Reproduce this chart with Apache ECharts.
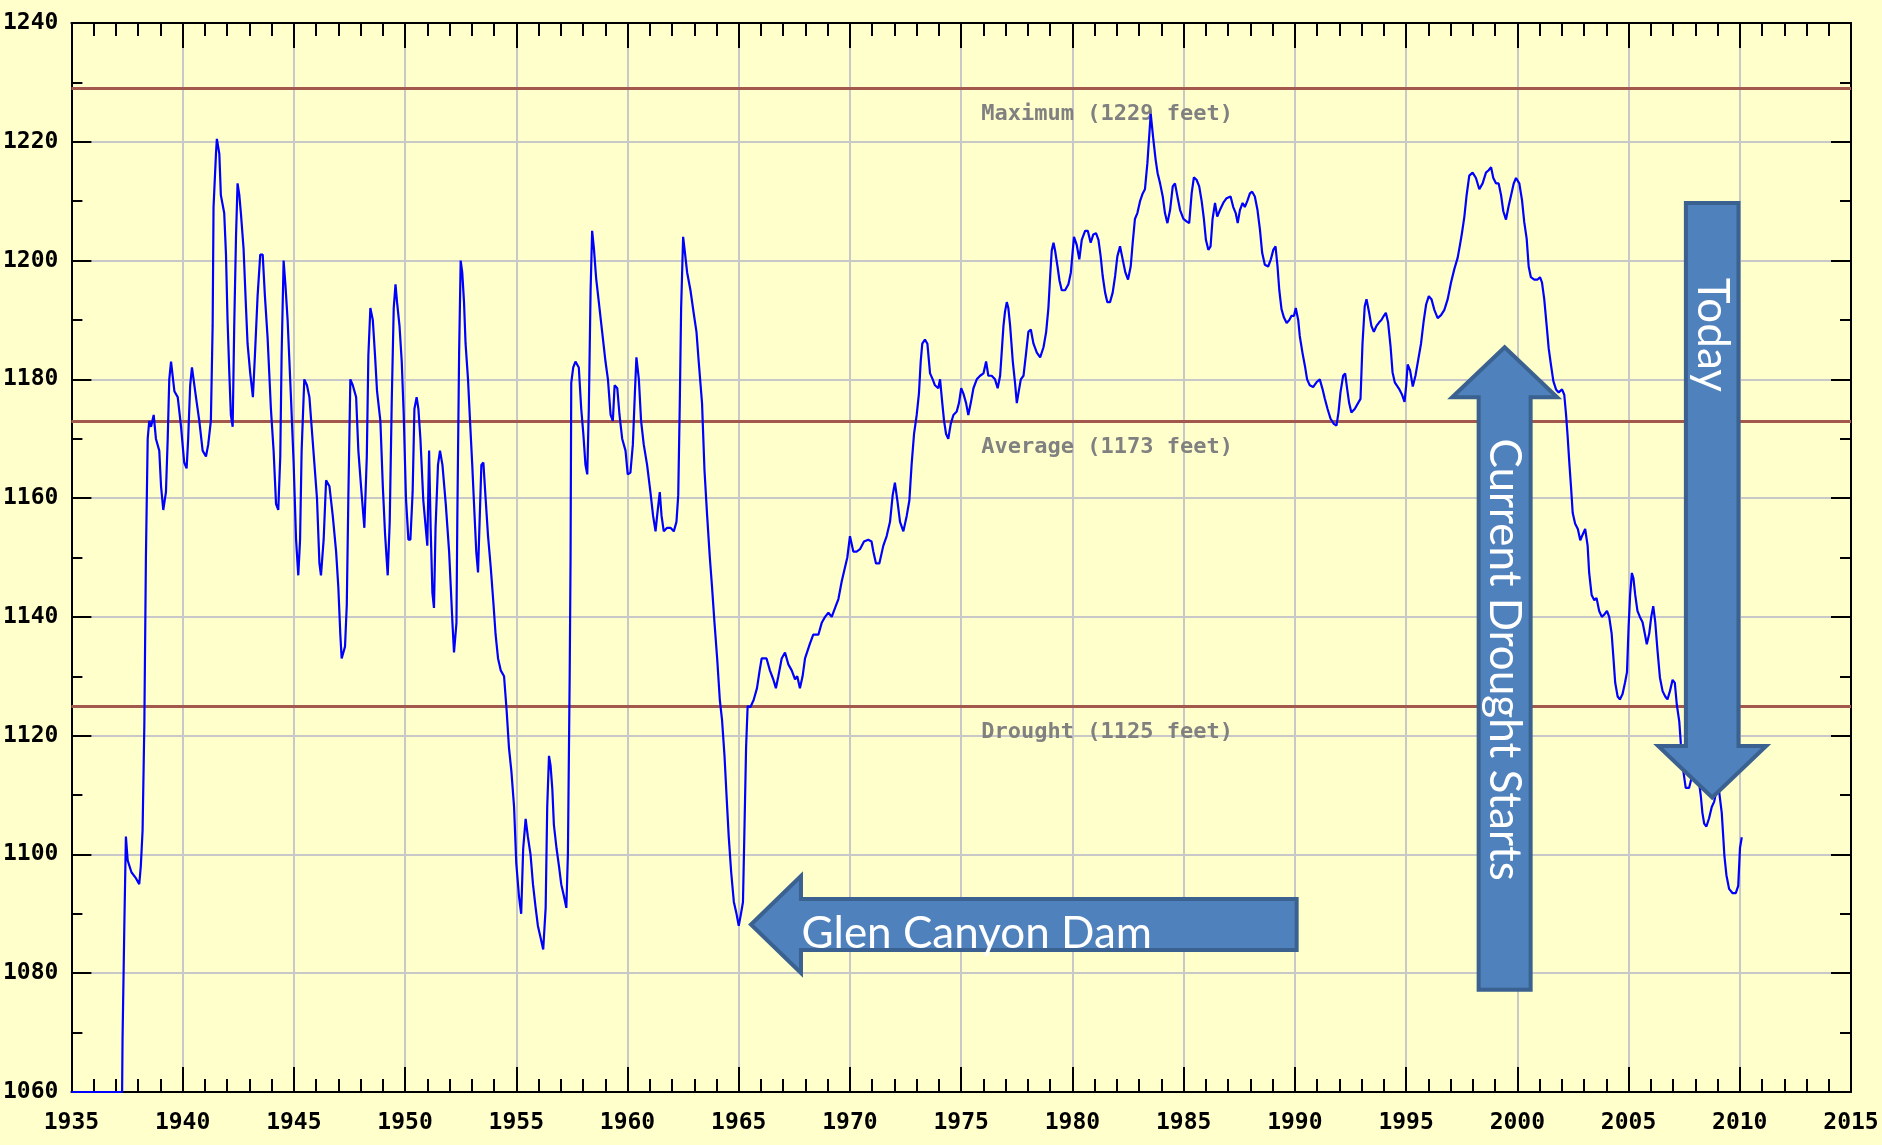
<!DOCTYPE html>
<html>
<head>
<meta charset="utf-8">
<title>Lake Mead elevation</title>
<script src="https://cdn.jsdelivr.net/npm/echarts@6/dist/echarts.min.js"></script>
<style>
  html, body { margin: 0; padding: 0; background: #ffffcc; }
  #chart { width: 1882px; height: 1145px; }
</style>
</head>
<body>
<div id="chart"></div>
<script>
// lake surface elevation, [year, feet]
const elev1930s = [
  [1935.0, 1060], [1937.28, 1060], [1937.3, 1069], [1937.38, 1088], [1937.45, 1103], [1937.53, 1099],
  [1937.7, 1097], [1937.9, 1096], [1938.05, 1095], [1938.12, 1098], [1938.2, 1104], [1938.28, 1122],
  [1938.35, 1150], [1938.43, 1170], [1938.5, 1173], [1938.58, 1172], [1938.7, 1174], [1938.8, 1170],
  [1938.95, 1168], [1939.03, 1162], [1939.13, 1158], [1939.25, 1161], [1939.33, 1170], [1939.4, 1180],
  [1939.48, 1183], [1939.63, 1178], [1939.78, 1177], [1939.93, 1172],
];
const elev1940s = [
  [1940.07, 1166], [1940.18, 1165], [1940.25, 1170], [1940.34, 1179], [1940.42, 1182], [1940.6, 1177],
  [1940.75, 1173], [1940.9, 1168], [1941.05, 1167], [1941.15, 1169], [1941.27, 1173], [1941.35, 1189],
  [1941.39, 1209], [1941.5, 1218], [1941.54, 1220.5], [1941.65, 1218], [1941.72, 1211], [1941.87, 1208],
  [1941.95, 1201], [1942.02, 1190], [1942.1, 1181], [1942.17, 1174], [1942.25, 1172], [1942.32, 1189],
  [1942.4, 1204], [1942.47, 1213], [1942.55, 1211], [1942.62, 1208], [1942.74, 1202], [1942.85, 1192],
  [1942.92, 1186], [1943.04, 1181], [1943.16, 1177], [1943.25, 1184], [1943.37, 1194], [1943.49, 1201],
  [1943.6, 1201], [1943.7, 1194], [1943.82, 1187], [1943.97, 1175], [1944.09, 1168], [1944.2, 1159],
  [1944.3, 1158], [1944.39, 1167], [1944.45, 1184], [1944.54, 1200], [1944.62, 1196], [1944.72, 1190],
  [1944.87, 1177], [1944.99, 1166], [1945.1, 1153], [1945.2, 1147], [1945.28, 1153], [1945.35, 1168],
  [1945.47, 1180], [1945.59, 1179], [1945.7, 1177], [1945.8, 1172], [1945.92, 1166], [1946.04, 1160],
  [1946.15, 1149], [1946.22, 1147], [1946.34, 1153], [1946.45, 1163], [1946.6, 1162], [1946.75, 1157],
  [1946.9, 1151], [1947.0, 1145], [1947.09, 1137], [1947.15, 1133], [1947.3, 1135], [1947.38, 1142],
  [1947.45, 1160], [1947.54, 1180], [1947.65, 1179], [1947.8, 1177], [1947.9, 1168], [1948.02, 1162],
  [1948.17, 1155], [1948.28, 1167], [1948.35, 1184], [1948.44, 1192], [1948.55, 1190], [1948.65, 1184],
  [1948.74, 1178], [1948.89, 1173], [1949.0, 1162], [1949.1, 1154], [1949.22, 1147], [1949.31, 1156],
  [1949.4, 1176], [1949.49, 1192], [1949.57, 1196], [1949.64, 1193], [1949.75, 1189], [1949.85, 1183],
  [1949.94, 1174],
];
const elev1950s = [
  [1950.04, 1160], [1950.15, 1153], [1950.24, 1153], [1950.34, 1161], [1950.42, 1175], [1950.52, 1177],
  [1950.6, 1175], [1950.69, 1170], [1950.82, 1159.6], [1950.93, 1155], [1951.0, 1152], [1951.08, 1168],
  [1951.15, 1155], [1951.23, 1144], [1951.3, 1141.5], [1951.37, 1155], [1951.48, 1165.6], [1951.57, 1168],
  [1951.68, 1165.6], [1951.83, 1159], [1951.98, 1151], [1952.13, 1139], [1952.2, 1134], [1952.31, 1139],
  [1952.35, 1157], [1952.43, 1184.5], [1952.5, 1200], [1952.57, 1198], [1952.65, 1193], [1952.72, 1186],
  [1952.83, 1180], [1952.92, 1173], [1953.02, 1165.6], [1953.1, 1159], [1953.2, 1151], [1953.28, 1147.5],
  [1953.35, 1156], [1953.43, 1165.6], [1953.52, 1166], [1953.62, 1160], [1953.73, 1153.6], [1953.85, 1148.4],
  [1953.97, 1142.4], [1954.07, 1137], [1954.18, 1133], [1954.3, 1131], [1954.45, 1130], [1954.57, 1124],
  [1954.67, 1118], [1954.78, 1114], [1954.9, 1108], [1955.0, 1098.5], [1955.12, 1093], [1955.22, 1090],
  [1955.31, 1101], [1955.42, 1106], [1955.52, 1103], [1955.64, 1100], [1955.75, 1095], [1955.87, 1091],
  [1955.97, 1088], [1956.09, 1086], [1956.21, 1084], [1956.32, 1091], [1956.39, 1108], [1956.47, 1116.6],
  [1956.54, 1115], [1956.62, 1111], [1956.69, 1105], [1956.81, 1101], [1956.92, 1098], [1957.02, 1095],
  [1957.14, 1093], [1957.25, 1091], [1957.32, 1100], [1957.4, 1130], [1957.44, 1150], [1957.47, 1179.4],
  [1957.56, 1182], [1957.66, 1183], [1957.81, 1182], [1957.92, 1175], [1958.01, 1171], [1958.11, 1165.6],
  [1958.19, 1164], [1958.26, 1175], [1958.34, 1195], [1958.41, 1205], [1958.49, 1202], [1958.59, 1197],
  [1958.71, 1193], [1958.86, 1188], [1959.01, 1183], [1959.12, 1180], [1959.24, 1174], [1959.34, 1173],
  [1959.42, 1179], [1959.54, 1178.5], [1959.64, 1174], [1959.76, 1170], [1959.91, 1168],
];
const elev1960s = [
  [1960.01, 1164], [1960.13, 1164.3], [1960.24, 1169], [1960.33, 1177.6], [1960.4, 1183.7], [1960.51, 1180],
  [1960.61, 1173], [1960.73, 1169], [1960.88, 1165.6], [1961.03, 1161], [1961.15, 1157], [1961.26, 1154.4],
  [1961.33, 1157], [1961.45, 1161], [1961.53, 1157], [1961.63, 1154.4], [1961.78, 1155], [1961.93, 1155],
  [1962.08, 1154.4], [1962.2, 1156], [1962.28, 1160.5], [1962.35, 1176], [1962.41, 1192], [1962.5, 1204],
  [1962.57, 1201.7], [1962.68, 1198], [1962.83, 1195], [1962.98, 1191], [1963.1, 1188], [1963.2, 1183],
  [1963.35, 1176], [1963.46, 1164.7], [1963.58, 1157], [1963.7, 1150], [1963.8, 1145], [1963.91, 1139],
  [1964.03, 1133], [1964.15, 1126], [1964.25, 1122.6], [1964.36, 1116.6], [1964.45, 1110], [1964.55, 1103],
  [1964.66, 1097], [1964.78, 1092], [1964.9, 1090], [1965.0, 1088], [1965.1, 1090], [1965.19, 1092],
  [1965.25, 1103], [1965.33, 1118], [1965.4, 1125], [1965.52, 1124.8], [1965.67, 1126], [1965.82, 1128],
  [1965.94, 1131], [1966.03, 1133], [1966.25, 1133], [1966.4, 1131], [1966.55, 1129.5], [1966.67, 1128],
  [1966.78, 1130], [1966.93, 1133], [1967.08, 1134], [1967.23, 1132], [1967.38, 1131], [1967.53, 1129.5],
  [1967.63, 1130], [1967.75, 1128], [1967.87, 1130], [1967.98, 1133], [1968.2, 1135.5], [1968.35, 1137],
  [1968.58, 1137], [1968.73, 1139], [1968.88, 1140], [1969.03, 1140.7], [1969.18, 1140], [1969.33, 1141.5],
  [1969.48, 1143], [1969.63, 1146], [1969.78, 1148.4], [1969.88, 1150],
];
const elev1970s = [
  [1970.0, 1153.6], [1970.15, 1151], [1970.3, 1151], [1970.45, 1151.4], [1970.63, 1152.7], [1970.82, 1153],
  [1970.97, 1152.7], [1971.05, 1151], [1971.17, 1149], [1971.32, 1149], [1971.5, 1152], [1971.65, 1153.6],
  [1971.8, 1156], [1971.92, 1160.5], [1972.02, 1162.6], [1972.13, 1159.6], [1972.25, 1156], [1972.4, 1154.4],
  [1972.55, 1157], [1972.67, 1159.6], [1972.77, 1165.6], [1972.88, 1170.8], [1973.0, 1174], [1973.1, 1177.6],
  [1973.18, 1183], [1973.25, 1186], [1973.37, 1186.7], [1973.48, 1186], [1973.6, 1181], [1973.72, 1180],
  [1973.82, 1179], [1973.97, 1178.5], [1974.05, 1180], [1974.15, 1176], [1974.23, 1173], [1974.32, 1170.8],
  [1974.42, 1170], [1974.53, 1172.5], [1974.65, 1174], [1974.8, 1174.6], [1974.9, 1176], [1975.0, 1178.5],
  [1975.1, 1177.6], [1975.22, 1176], [1975.32, 1174], [1975.43, 1176], [1975.55, 1178.5], [1975.7, 1180],
  [1975.85, 1180.6], [1976.0, 1181], [1976.12, 1183], [1976.22, 1180.6], [1976.37, 1180.6], [1976.52, 1180],
  [1976.64, 1178.5], [1976.75, 1180.6], [1976.82, 1184.5], [1976.9, 1189], [1976.97, 1191.4], [1977.05, 1193],
  [1977.12, 1192], [1977.2, 1189], [1977.32, 1183], [1977.42, 1179.4], [1977.5, 1176], [1977.57, 1177.6],
  [1977.68, 1180], [1977.8, 1180.6], [1977.92, 1184.5], [1978.02, 1188], [1978.13, 1188.4], [1978.25, 1186],
  [1978.4, 1184.5], [1978.55, 1183.7], [1978.7, 1185.4], [1978.82, 1188], [1978.92, 1192], [1979.0, 1197.4],
  [1979.07, 1201.7], [1979.15, 1203], [1979.22, 1201.7], [1979.33, 1199], [1979.42, 1196.6], [1979.52, 1195],
  [1979.67, 1195], [1979.82, 1196], [1979.93, 1198],
];
const elev1980s = [
  [1980.07, 1204], [1980.19, 1202.7], [1980.31, 1200.2], [1980.42, 1203.5], [1980.57, 1205], [1980.69, 1205],
  [1980.82, 1203], [1980.94, 1204.4], [1981.06, 1204.6], [1981.17, 1203.5], [1981.27, 1200.7], [1981.36, 1197.4],
  [1981.47, 1194.6], [1981.57, 1193], [1981.69, 1193], [1981.81, 1194.6], [1981.92, 1197.4], [1982.02, 1200.7],
  [1982.14, 1202.4], [1982.26, 1200.2], [1982.38, 1198], [1982.5, 1196.8], [1982.62, 1199], [1982.71, 1203],
  [1982.81, 1207], [1982.92, 1208], [1983.04, 1210], [1983.16, 1211.3], [1983.26, 1212], [1983.37, 1216.4],
  [1983.44, 1220.3], [1983.52, 1224.7], [1983.58, 1222.5], [1983.64, 1220.3], [1983.74, 1217], [1983.83, 1214.7],
  [1983.94, 1213], [1984.06, 1210.8], [1984.16, 1208], [1984.27, 1206.3], [1984.39, 1208.5], [1984.51, 1212.5],
  [1984.61, 1213], [1984.72, 1210.8], [1984.84, 1208.5], [1984.99, 1207], [1985.13, 1206.6], [1985.25, 1206.3],
  [1985.36, 1211.3], [1985.46, 1214], [1985.58, 1213.6], [1985.7, 1212.5], [1985.81, 1210], [1985.91, 1207],
  [1986.0, 1203.5], [1986.11, 1201.8], [1986.21, 1202.4], [1986.3, 1207], [1986.41, 1209.7], [1986.51, 1207.4],
  [1986.63, 1208.5], [1986.78, 1209.7], [1986.93, 1210.5], [1987.11, 1210.8], [1987.23, 1209], [1987.34, 1208],
  [1987.43, 1206.3], [1987.53, 1208.5], [1987.65, 1209.7], [1987.75, 1209], [1987.86, 1210], [1987.98, 1211.3],
  [1988.08, 1211.6], [1988.2, 1210.8], [1988.32, 1208.5], [1988.43, 1205.2], [1988.53, 1201.3], [1988.65, 1199.3],
  [1988.8, 1199], [1988.92, 1200.2], [1989.03, 1201.8], [1989.13, 1202.4], [1989.22, 1199], [1989.3, 1195],
  [1989.4, 1191.8], [1989.51, 1190.4], [1989.63, 1189.5], [1989.75, 1190], [1989.85, 1190.7], [1989.96, 1190.7],
];
const elev1990s = [
  [1990.04, 1192], [1990.15, 1190], [1990.22, 1187.3], [1990.34, 1184.5], [1990.45, 1182.3], [1990.55, 1180],
  [1990.67, 1179], [1990.82, 1178.7], [1990.97, 1179.5], [1991.12, 1180], [1991.24, 1178.4], [1991.35, 1176.7],
  [1991.47, 1175], [1991.6, 1173.4], [1991.75, 1172.5], [1991.87, 1172.2], [1991.96, 1174.4], [1992.05, 1177.8],
  [1992.17, 1180.6], [1992.26, 1181], [1992.35, 1178.4], [1992.44, 1176], [1992.54, 1174.4], [1992.69, 1175],
  [1992.84, 1176], [1992.95, 1176.7], [1993.04, 1186], [1993.14, 1192.3], [1993.22, 1193.5], [1993.34, 1191.2],
  [1993.44, 1189], [1993.55, 1188], [1993.67, 1189], [1993.79, 1189.6], [1993.89, 1190], [1994.0, 1190.7],
  [1994.09, 1191.2], [1994.19, 1189.6], [1994.3, 1185.6], [1994.39, 1181.2], [1994.49, 1179.5], [1994.7, 1178.3],
  [1994.82, 1177.4], [1994.93, 1176.2], [1995.0, 1178.8], [1995.07, 1182.5], [1995.18, 1181.5], [1995.3, 1178.8],
  [1995.42, 1180.6], [1995.55, 1183.4], [1995.67, 1186], [1995.79, 1189.8], [1995.9, 1192.6], [1996.02, 1194],
  [1996.14, 1193.5], [1996.27, 1191.7], [1996.42, 1190.3], [1996.57, 1190.8], [1996.72, 1191.7], [1996.87, 1193.5],
  [1997.02, 1196.3], [1997.17, 1198.6], [1997.32, 1200.5], [1997.43, 1202.8], [1997.51, 1204.6], [1997.62, 1207.4],
  [1997.72, 1211], [1997.84, 1214.3], [1997.99, 1214.8], [1998.14, 1213.9], [1998.29, 1212], [1998.44, 1213],
  [1998.59, 1214.8], [1998.71, 1215.2], [1998.82, 1215.7], [1998.92, 1213.9], [1999.04, 1213], [1999.16, 1213],
  [1999.27, 1211], [1999.37, 1208.3], [1999.49, 1206.9], [1999.61, 1209.2], [1999.72, 1211], [1999.84, 1213],
  [1999.94, 1213.9],
];
const elev2000s = [
  [2000.01, 1213.9], [2000.09, 1213], [2000.21, 1210.2], [2000.31, 1206.5], [2000.42, 1203.7], [2000.51, 1199],
  [2000.61, 1197.2], [2000.76, 1196.8], [2000.91, 1196.8], [2001.02, 1197.2], [2001.11, 1196.3], [2001.21, 1193.5],
  [2001.32, 1189], [2001.41, 1185.2], [2001.51, 1182.5], [2001.62, 1179.7], [2001.74, 1178.3], [2001.86, 1177.8],
  [2002.01, 1178.3], [2002.11, 1177.4], [2002.19, 1174.1], [2002.26, 1170.5], [2002.34, 1165.8], [2002.41, 1162.1],
  [2002.49, 1157.5], [2002.6, 1155.7], [2002.72, 1154.8], [2002.83, 1152.9], [2002.93, 1153.8], [2003.05, 1154.8],
  [2003.16, 1152], [2003.23, 1147.4], [2003.34, 1143.7], [2003.46, 1142.8], [2003.56, 1143.2], [2003.68, 1141],
  [2003.8, 1140], [2003.91, 1140.4], [2004.03, 1141], [2004.13, 1140], [2004.24, 1137.2], [2004.33, 1132.6],
  [2004.4, 1128.9], [2004.51, 1126.6], [2004.61, 1126.1], [2004.73, 1127], [2004.84, 1128.9], [2004.93, 1130.7],
  [2005.0, 1138.1], [2005.07, 1143.7], [2005.15, 1147.4], [2005.22, 1146.5], [2005.3, 1143.7], [2005.4, 1141],
  [2005.51, 1140], [2005.63, 1139.1], [2005.73, 1137.2], [2005.82, 1135.4], [2005.93, 1137.2], [2006.02, 1140],
  [2006.11, 1141.8], [2006.2, 1139.1], [2006.3, 1134.4], [2006.41, 1129.8], [2006.53, 1127.5], [2006.65, 1126.6],
  [2006.75, 1126.1], [2006.86, 1127.5], [2006.98, 1129.4], [2007.08, 1128.9], [2007.17, 1125.2], [2007.28, 1122.4],
  [2007.35, 1118.7], [2007.46, 1114.1], [2007.57, 1111.2], [2007.72, 1111.2], [2007.84, 1113], [2007.95, 1113.5],
  [2008.05, 1113.5], [2008.17, 1112.1], [2008.25, 1109.8], [2008.32, 1107], [2008.4, 1105.2], [2008.5, 1104.7],
  [2008.62, 1106.1], [2008.74, 1108], [2008.85, 1108.9], [2008.95, 1110.7], [2009.04, 1111.6], [2009.12, 1111.6],
  [2009.19, 1107], [2009.25, 1103.4], [2009.31, 1099.7], [2009.4, 1096.5], [2009.52, 1094.2], [2009.67, 1093.5],
  [2009.82, 1093.5], [2009.93, 1094.7], [2009.97, 1097.9], [2010.01, 1101.1], [2010.09, 1102.9],
];

// reference levels drawn across the plot
const refNames = ["Maximum", "Average", "Drought"];
const refFeet = [1229, 1173, 1125];
const refLabelYear = 1981.56;

// annotation arrows, anchored in [year, feet]
const arrowLabels = ["Glen Canyon Dam", "Current Drought Starts", "Today"];
const arrowTips = [[1965.55, 1088.2], [1999.43, 1185.4], [2008.76, 1109.6]];
const arrowTails = [[1990.08, 1088.2], [1999.43, 1077.2], [2008.76, 1209.7]];
const arrowTextAt = [[1975.7, 1086.7], [1999.41, 1132.8], [2008.78, 1187.5]];

const MONO = "'DejaVu Sans Mono', monospace";
const el = document.getElementById("chart");
const chart = echarts.init(el, null, { renderer: "canvas" });

function axisPair(pos, isX) {
  const major = isX ? 25 : 20;
  const minor = isX ? 13 : 11;
  return {
    type: "value",
    position: pos,
    min: isX ? 1935 : 1060,
    max: isX ? 2015 : 1240,
    interval: isX ? 5 : 20,
    axisLine: { show: true, onZero: false, lineStyle: { color: "#000", width: 2 } },
    axisTick: { show: true, inside: true, length: major, lineStyle: { color: "#000", width: 2 } },
    minorTick: { show: true, splitNumber: isX ? 5 : 2, length: minor, lineStyle: { color: "#000", width: 2 } },
    minorSplitLine: { show: false },
    axisLabel: { show: false },
    splitLine: { show: false },
  };
}

function buildOption() {
  const bottom = axisPair("bottom", true);
  bottom.axisLabel = {
    show: true, color: "#000", fontFamily: MONO, fontWeight: "bold", fontSize: 23, margin: 20,
    formatter: (v) => String(v),
  };
  bottom.splitLine = { show: true, lineStyle: { color: "#c8c8c8", width: 2 } };

  const left = axisPair("left", false);
  left.axisLabel = {
    show: true, color: "#000", fontFamily: MONO, fontWeight: "bold", fontSize: 23, margin: 13,
    formatter: (v) => String(v),
  };
  left.splitLine = { show: true, lineStyle: { color: "#c8c8c8", width: 2 } };

  const elevation = [].concat(elev1930s, elev1940s, elev1950s, elev1960s, elev1970s, elev1980s, elev1990s, elev2000s);

  return {
    animation: false,
    backgroundColor: "#ffffcc",
    grid: { left: 70, right: 31, top: 23, bottom: 53, containLabel: false },
    xAxis: [bottom, axisPair("top", true)],
    yAxis: [left, axisPair("right", false)],
    series: [
      {
        type: "line",
        data: elevation,
        showSymbol: false,
        symbol: "none",
        clip: true,
        z: 5,
        lineStyle: { color: "#0000ff", width: 2.2 },
        emphasis: { disabled: true },
        markLine: {
          silent: true,
          symbol: "none",
          label: { show: false },
          lineStyle: { color: "#a3584e", width: 3, type: "solid" },
          data: refFeet.map((v) => ({ yAxis: v })),
          z: 3,
        },
        markPoint: {
          silent: true,
          symbol: "circle",
          symbolSize: 0,
          data: refFeet.map((v, i) => ({
            coord: [refLabelYear, v],
            label: {
              show: true,
              position: "bottom",
              distance: 15,
              formatter: `${refNames[i]} (${v} feet)`,
              color: "#808080",
              fontFamily: MONO,
              fontWeight: "bold",
              fontSize: 22,
            },
          })),
        },
      },
    ],
  };
}

function toPx(pt) {
  return chart.convertToPixel({ xAxisIndex: 0, yAxisIndex: 0 }, pt);
}

// block arrow outline from tail to tip
function arrowShape(tip, tail, shaftHalf, headHalf, headLen) {
  const dx = tip[0] - tail[0];
  const dy = tip[1] - tail[1];
  const len = Math.hypot(dx, dy);
  const ux = dx / len, uy = dy / len;
  const nx = -uy, ny = ux;
  const bx = tip[0] - ux * headLen, by = tip[1] - uy * headLen;
  return [
    [tail[0] + nx * shaftHalf, tail[1] + ny * shaftHalf],
    [bx + nx * shaftHalf, by + ny * shaftHalf],
    [bx + nx * headHalf, by + ny * headHalf],
    [tip[0], tip[1]],
    [bx - nx * headHalf, by - ny * headHalf],
    [bx - nx * shaftHalf, by - ny * shaftHalf],
    [tail[0] - nx * shaftHalf, tail[1] - ny * shaftHalf],
  ];
}

function buildArrows() {
  const sizes = [[25.5, 48.5, 50], [26, 52.5, 50], [26.3, 54, 51.5]];
  const rotations = [0, -Math.PI / 2, -Math.PI / 2];
  const shapes = [];
  arrowLabels.forEach((label, i) => {
    const tip = toPx(arrowTips[i]);
    const tail = toPx(arrowTails[i]);
    const [w, hw, hl] = sizes[i];
    shapes.push({
      type: "polygon",
      z: 100,
      silent: true,
      shape: { points: arrowShape(tip, tail, w, hw, hl) },
      style: { fill: "#4f81bd", stroke: "#3a6190", lineWidth: 4, lineJoin: "miter" },
    });
    const at = toPx(arrowTextAt[i]);
    shapes.push({
      type: "text",
      z: 101,
      silent: true,
      x: at[0],
      y: at[1],
      rotation: rotations[i],
      style: {
        text: label,
        fill: "#ffffff",
        font: "44px Lato, 'Open Sans', sans-serif",
        align: "center",
        verticalAlign: "middle",
      },
    });
  });
  return shapes;
}

function renderChart() {
  chart.setOption(buildOption(), { notMerge: true });
  chart.setOption({ graphic: buildArrows() });
}

renderChart();
window.addEventListener("resize", () => {
  chart.resize();
  chart.setOption({ graphic: buildArrows() });
});
</script>
</body>
</html>
